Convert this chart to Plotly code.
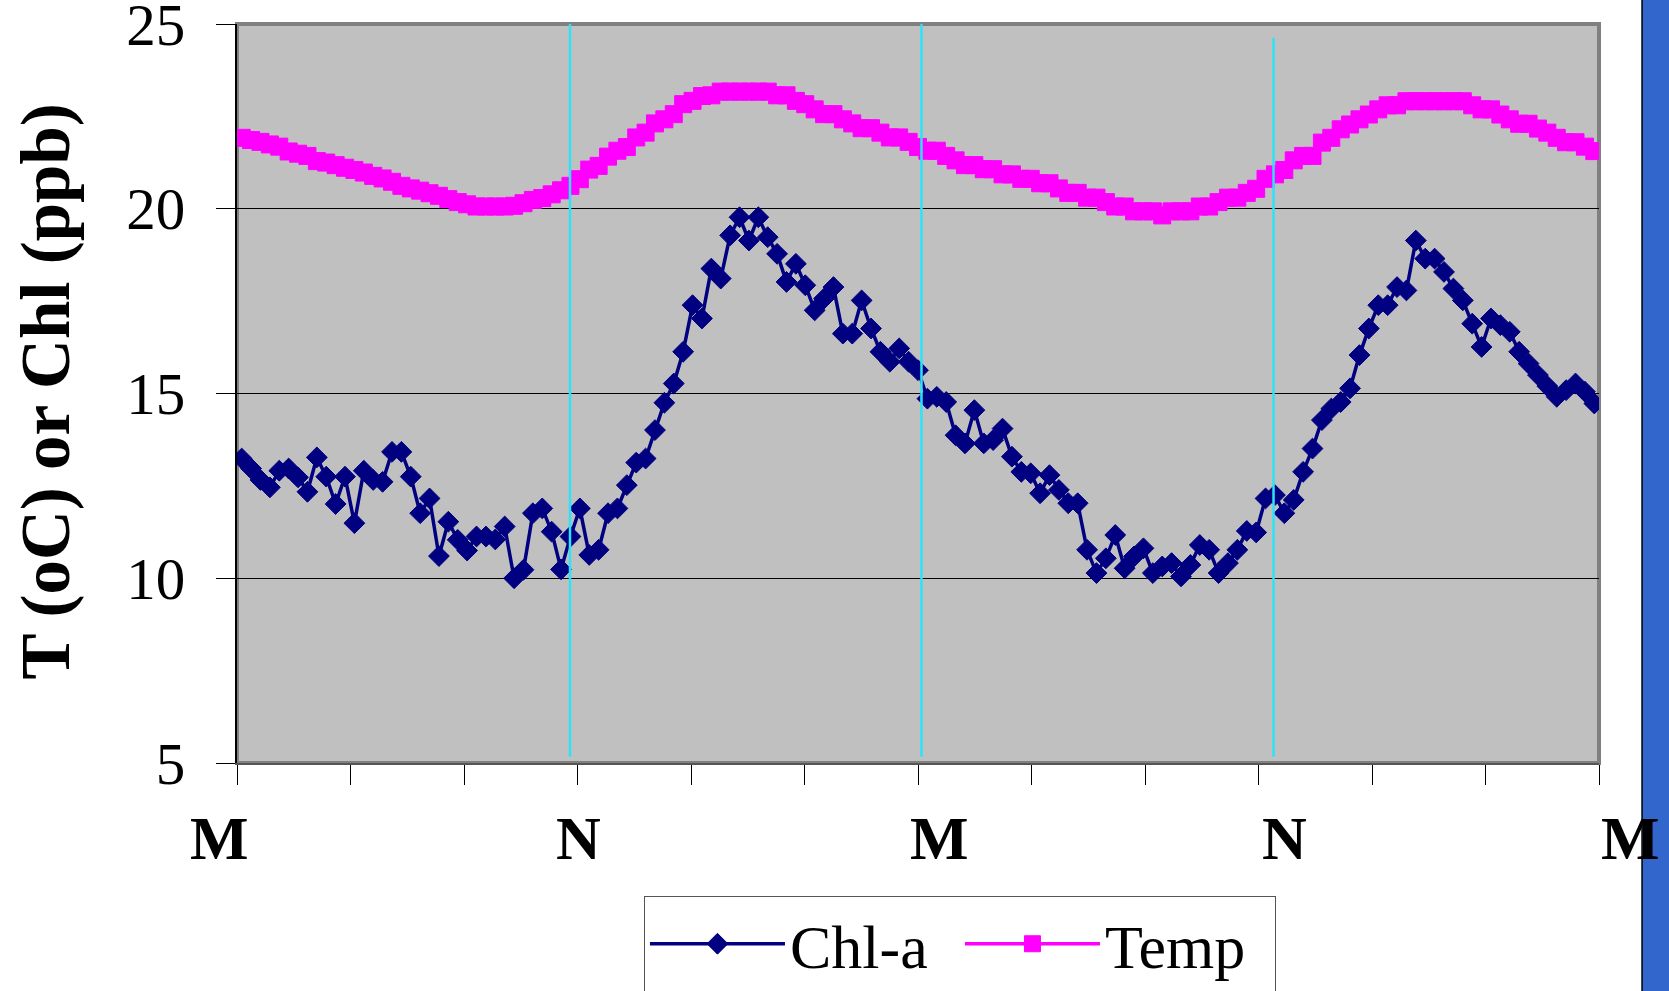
import plotly.graph_objects as go

# ---------------- data ----------------
chl_a = [
    13.24, 12.97, 12.66, 12.46, 12.91, 12.97, 12.73, 12.34, 13.27, 12.75,
    12.01, 12.75, 11.49, 12.91, 12.66, 12.61, 13.42, 13.42, 12.75, 11.76,
    12.16, 10.60, 11.53, 11.04, 10.75, 11.13, 11.13, 11.05, 11.40, 10.00,
    10.23, 11.76, 11.89, 11.26, 10.24, 11.13, 11.89, 10.63, 10.77, 11.76,
    11.89, 12.52, 13.13, 13.24, 14.01, 14.75, 15.27, 16.13, 17.39, 17.03,
    18.38, 18.11, 19.28, 19.77, 19.14, 19.77, 19.23, 18.78, 18.02, 18.51,
    17.93, 17.25, 17.57, 17.88, 16.62, 16.62, 17.52, 16.76, 16.13, 15.86,
    16.22, 15.86, 15.63, 14.86, 14.91, 14.77, 13.87, 13.65, 14.55, 13.65,
    13.74, 14.05, 13.29, 12.88, 12.84, 12.30, 12.79, 12.39, 12.03, 12.03,
    10.77, 10.14, 10.54, 11.17, 10.27, 10.59, 10.81, 10.14, 10.32, 10.41,
    10.05, 10.36, 10.90, 10.77, 10.14, 10.41, 10.77, 11.28, 11.24, 12.16,
    12.25, 11.76, 12.12, 12.88, 13.51, 14.28, 14.59, 14.77, 15.14, 16.04,
    16.76, 17.39, 17.39, 17.88, 17.79, 19.14, 18.65, 18.65, 18.29, 17.84,
    17.52, 16.89, 16.26, 17.03, 16.85, 16.67, 16.13, 15.81, 15.50, 15.20,
    14.91, 15.09, 15.27, 15.05, 14.73,
]

temp = [
    21.92, 21.86, 21.81, 21.74, 21.68, 21.55, 21.49, 21.43, 21.29, 21.25,
    21.18, 21.11, 21.05, 20.98, 20.89, 20.82, 20.73, 20.62, 20.55, 20.49,
    20.42, 20.35, 20.26, 20.18, 20.12, 20.06, 20.06, 20.06, 20.06, 20.08,
    20.15, 20.24, 20.29, 20.39, 20.50, 20.62, 20.80, 21.06, 21.16, 21.41,
    21.57, 21.67, 21.93, 22.06, 22.31, 22.42, 22.56, 22.83, 22.92, 23.05,
    23.07, 23.17, 23.17, 23.17, 23.17, 23.17, 23.17, 23.07, 23.07, 22.92,
    22.83, 22.69, 22.56, 22.56, 22.42, 22.31, 22.18, 22.18, 22.06, 21.93,
    21.93, 21.81, 21.67, 21.57, 21.57, 21.43, 21.31, 21.18, 21.18, 21.07,
    21.07, 20.93, 20.93, 20.81, 20.81, 20.69, 20.69, 20.55, 20.43, 20.43,
    20.30, 20.30, 20.18, 20.06, 20.06, 19.93, 19.93, 19.93, 19.82, 19.93,
    19.93, 19.93, 20.06, 20.06, 20.18, 20.30, 20.30, 20.43, 20.54, 20.81,
    20.93, 21.05, 21.31, 21.43, 21.43, 21.79, 21.92, 22.15, 22.28, 22.42,
    22.55, 22.69, 22.80, 22.80, 22.91, 22.91, 22.91, 22.91, 22.91, 22.91,
    22.91, 22.80, 22.69, 22.69, 22.55, 22.42, 22.30, 22.30, 22.17, 22.06,
    21.92, 21.80, 21.80, 21.68, 21.56,
]

sample = list(range(len(chl_a)))
month_labels = ["M", "N", "M", "N", "M"]
y_ticks = [5, 10, 15, 20, 25]
series_names = ["Chl-a", "Temp"]

# ---------------- styling / layout constants ----------------
SERIF = "Liberation Serif, Times New Roman, serif"
n = len(chl_a)
x_tickvals = [-0.5 + k * n / 12 for k in range(13)]
label_x_paper = [-0.013, 0.251, 0.516, 0.769, 1.023]
cyan_lines = [(34.95, 5.17, 25.05), (72.37, 5.17, 25.05), (109.85, 5.17, 24.63)]

fig = go.Figure()
fig.add_trace(go.Scatter(
    x=sample, y=chl_a, name=series_names[0], mode="lines+markers",
    line=dict(color="#000080", width=3.5),
    marker=dict(symbol="diamond", size=16, color="#000080",
                line=dict(color="#000080", width=1)),
))
fig.add_trace(go.Scatter(
    x=sample, y=temp, name=series_names[1], mode="lines+markers",
    line=dict(color="#FF00FF", width=3.5),
    marker=dict(symbol="square", size=17, color="#FF00FF",
                line=dict(color="#FF00FF", width=1)),
))

shapes = []
for xv, y0, y1 in cyan_lines:
    shapes.append(dict(type="line", xref="x", yref="y", x0=xv, x1=xv, y0=y0, y1=y1,
                       line=dict(color="#2EE2F8", width=2.5), layer="above"))
# plot-area border (Excel style)
shapes.append(dict(type="rect", xref="paper", yref="paper", x0=0, x1=1, y0=0, y1=1,
                   line=dict(color="#808080", width=4), layer="below"))
# blue slide strip on the right
shapes.append(dict(type="rect", xref="paper", yref="paper", x0=1.0316, x1=1.08,
                   y0=-0.4, y1=1.1, fillcolor="#3366CC",
                   line=dict(color="black", width=1.5), layer="above"))

annotations = []
for lab, xp in zip(month_labels, label_x_paper):
    annotations.append(dict(text=f"<b>{lab}</b>", xref="paper", yref="paper",
                            x=xp, y=-0.101, showarrow=False,
                            xanchor="center", yanchor="middle",
                            font=dict(family=SERIF, size=62, color="black")))
annotations.append(dict(text="<b>T (oC) or Chl (ppb)</b>", xref="paper", yref="paper",
                        x=-0.140, y=0.503, textangle=-90, showarrow=False,
                        xanchor="center", yanchor="middle",
                        font=dict(family=SERIF, size=69, color="black")))

fig.update_layout(
    width=1669, height=991,
    margin=dict(l=237, r=70, t=23.5, b=228, autoexpand=False),
    paper_bgcolor="white", plot_bgcolor="#C0C0C0",
    showlegend=True,
    legend=dict(orientation="h", x=0.2988, y=-0.1799, xanchor="left", yanchor="top",
                bgcolor="white", bordercolor="#555555", borderwidth=1,
                font=dict(family=SERIF, size=62, color="black"),
                itemwidth=135, entrywidth=165, itemsizing="trace"),
    shapes=shapes, annotations=annotations,
    xaxis=dict(range=[-0.5, n - 0.5], tickvals=x_tickvals, showticklabels=False,
               ticks="outside", ticklen=20, tickcolor="black", tickwidth=1,
               showgrid=False, zeroline=False, showline=True,
               linecolor="#555555", linewidth=2),
    yaxis=dict(range=[5, 25], tickvals=y_ticks, ticks="outside", ticklen=19,
               tickcolor="black", tickwidth=1, showgrid=True, gridcolor="black",
               gridwidth=1, zeroline=False, showline=True, linecolor="black",
               linewidth=2, ticklabelstandoff=19, ticklabeloverflow="allow",
               tickfont=dict(family=SERIF, size=59, color="black")),
)

fig.write_html("out.html", config={"displayModeBar": False},
               post_script="document.body.style.margin='0px';")
